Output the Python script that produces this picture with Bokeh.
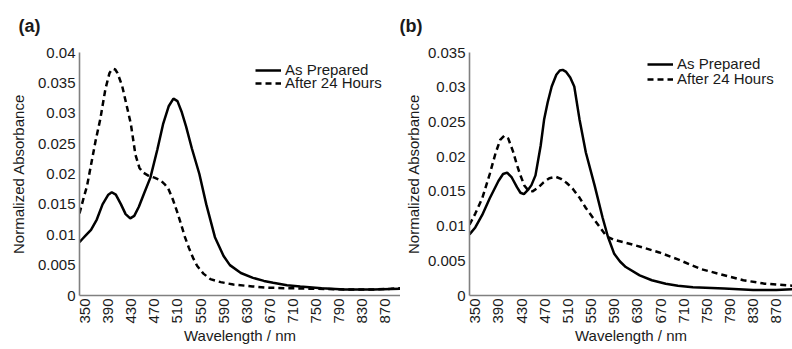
import math
from bokeh.plotting import figure
from bokeh.layouts import row
from bokeh.models import Range1d, FixedTicker, CustomJSTickFormatter, Legend, LegendItem
from bokeh.embed import file_html
from bokeh.resources import INLINE

# ---------------- data ----------------
x_ticks = [350, 390, 430, 470, 510, 550, 590, 630, 670, 710, 750, 790, 830, 870]
y_ticks_a = [0, 0.005, 0.01, 0.015, 0.02, 0.025, 0.03, 0.035, 0.04]
y_ticks_b = [0, 0.005, 0.01, 0.015, 0.02, 0.025, 0.03, 0.035]
series_names = ["As Prepared", "After 24 Hours"]
panel_labels = ["(a)", "(b)"]

# panel (a) - As Prepared
wl_a_prep = [340, 345, 350, 355, 360, 370, 380, 390, 396, 403, 412, 420, 428, 435, 443, 452, 463,
             475, 485, 495, 503, 510, 517, 525, 535, 548, 560, 575, 590, 601, 620, 641, 660,
             676, 700, 723, 760, 800, 850, 897]
abs_a_prep = [0.0088, 0.0093, 0.0098, 0.0103, 0.0108, 0.0125, 0.0150, 0.0166, 0.0170, 0.0166,
              0.0150, 0.0134, 0.0127, 0.0131, 0.0146, 0.0168, 0.0194, 0.0240, 0.0282, 0.0312,
              0.0324, 0.0320, 0.0303, 0.0278, 0.0242, 0.0200, 0.0150, 0.0096, 0.0065, 0.0050,
              0.0037, 0.0029, 0.0024, 0.0021, 0.0017, 0.0015, 0.0012, 0.0010, 0.0010, 0.0011]

# panel (a) - After 24 Hours
wl_a_24h = [340, 347, 353, 360, 368, 376, 385, 392, 396, 399, 402, 406, 414, 422, 429, 437, 444,
            451, 460, 470, 480, 488, 494, 502, 509, 516, 523, 530, 537, 544, 555, 567, 585,
            607, 640, 665, 700, 750, 800, 850, 880, 897]
abs_a_24h = [0.0135, 0.0160, 0.0180, 0.0215, 0.0255, 0.0290, 0.0340, 0.0366, 0.0372, 0.0373,
             0.0372, 0.0366, 0.0345, 0.0312, 0.0283, 0.0232, 0.0210, 0.0202, 0.0197, 0.0194,
             0.0190, 0.0183, 0.0176, 0.0158, 0.0139, 0.0118, 0.0096, 0.0078, 0.0062, 0.0049,
             0.0036, 0.0027, 0.0022, 0.0018, 0.0015, 0.0013, 0.0012, 0.0011, 0.0010, 0.0010,
             0.0011, 0.0012]

# panel (b) - As Prepared
wl_b_prep = [340, 350, 362, 375, 390, 398, 405, 413, 422, 428, 434, 441, 447, 454, 463, 469,
             475, 482, 490, 496, 501, 507, 514, 521, 530, 541, 556, 570, 579, 590, 600, 610,
             634, 655, 679, 700, 726, 780, 830, 870, 898]
abs_b_prep = [0.0088, 0.0098, 0.0116, 0.0140, 0.0165, 0.0175, 0.0177, 0.0170, 0.0156, 0.0148,
              0.0146, 0.0152, 0.0159, 0.0173, 0.0216, 0.0254, 0.0278, 0.0301, 0.0318, 0.0324,
              0.0325, 0.0322, 0.0314, 0.0301, 0.0254, 0.0206, 0.0159, 0.0112, 0.0085, 0.0060,
              0.0049, 0.0041, 0.0029, 0.0022, 0.0017, 0.0014, 0.0012, 0.0010, 0.0008, 0.0008,
              0.0009]

# panel (b) - After 24 Hours
wl_b_24h = [340, 350, 362, 375, 385, 393, 400, 407, 415, 422, 428, 435, 442, 449, 458, 468, 478,
            489, 498, 508, 518, 530, 541, 555, 570, 577, 590, 610, 640, 668, 700, 740, 772,
            813, 850, 898]
abs_b_24h = [0.0102, 0.0118, 0.0140, 0.0175, 0.0205, 0.0224, 0.0230, 0.0226, 0.0208, 0.0188,
             0.0173, 0.0158, 0.0151, 0.0150, 0.0155, 0.0163, 0.0169, 0.0171, 0.0168, 0.0162,
             0.0154, 0.0141, 0.0126, 0.0110, 0.0093, 0.0085, 0.0080, 0.0076, 0.0069, 0.0062,
             0.0052, 0.0038, 0.0031, 0.0022, 0.0017, 0.0014]

FONT = "Liberation Sans"
TXT = "#1a1a1a"
AXIS = "#808080"


def add_legend_item(p, name, renderer, loc):
    lg = Legend(items=[LegendItem(label=name, renderers=[renderer])],
                location=loc, orientation="vertical",
                border_line_color=None, background_fill_alpha=0,
                padding=0, margin=0, spacing=0,
                glyph_width=26, glyph_height=14, label_height=14,
                label_standoff=4,
                label_text_font=FONT, label_text_font_size="15px",
                label_text_color=TXT)
    p.add_layout(lg, "center")


def make_panel(width, border_left, border_top, border_bottom, xr, yr, yticks,
               wl1, a1, wl2, a2, ylab_standoff, xtick_standoff, xlab_standoff,
               legend_x, legend_y1, legend_y2, title_text, title_offset, title_standoff):
    p = figure(width=width, height=349, output_backend="svg", toolbar_location=None,
               x_range=Range1d(*xr), y_range=Range1d(*yr),
               min_border_left=border_left, min_border_right=0,
               min_border_top=border_top, min_border_bottom=border_bottom)
    p.outline_line_color = None
    p.xgrid.visible = False
    p.ygrid.visible = False
    p.background_fill_color = "white"
    p.border_fill_color = "white"

    p.title.text = title_text
    p.title.align = "left"
    p.title.vertical_align = "top"
    p.title.offset = title_offset
    p.title.standoff = title_standoff
    p.title.text_font = FONT
    p.title.text_font_size = "18px"
    p.title.text_font_style = "bold"
    p.title.text_color = TXT

    r1 = p.line(wl1, a1, line_color="black", line_width=2.5)
    r2 = p.line(wl2, a2, line_color="black", line_width=2.5, line_dash="6 4")

    for ax in (p.xaxis[0], p.yaxis[0]):
        ax.axis_line_color = AXIS
        ax.axis_line_width = 1.6
        ax.major_tick_line_color = None
        ax.minor_tick_line_color = None
        ax.major_tick_out = 0
        ax.major_tick_in = 0
        ax.minor_tick_out = 0
        ax.minor_tick_in = 0
        ax.major_label_text_font = FONT
        ax.major_label_text_font_size = "15px"
        ax.major_label_text_color = TXT
        ax.axis_label_text_font = FONT
        ax.axis_label_text_font_size = "15px"
        ax.axis_label_text_font_style = "normal"
        ax.axis_label_text_color = TXT

    p.xaxis.ticker = FixedTicker(ticks=x_ticks)
    p.xaxis.major_label_orientation = math.pi / 2
    p.xaxis.major_label_standoff = xtick_standoff
    p.xaxis.axis_label = "Wavelength / nm"
    p.xaxis.axis_label_standoff = xlab_standoff

    p.yaxis.ticker = FixedTicker(ticks=yticks)
    p.yaxis.formatter = CustomJSTickFormatter(code="return String(Number(tick.toFixed(4)));")
    p.yaxis.major_label_standoff = 4
    p.yaxis.axis_label = "Normalized Absorbance"
    p.yaxis.axis_label_standoff = ylab_standoff

    add_legend_item(p, series_names[0], r1, (legend_x, legend_y1))
    add_legend_item(p, series_names[1], r2, (legend_x, legend_y2))
    return p


pa = make_panel(400, 79, 51, 54, (340, 897), (0, 0.04), y_ticks_a,
                wl_a_prep, abs_a_prep, wl_a_24h, abs_a_24h,
                ylab_standoff=8, xtick_standoff=3, xlab_standoff=0,
                legend_x=176, legend_y1=217, legend_y2=204,
                title_text=panel_labels[0], title_offset=18 - 79, title_standoff=29)
pb = make_panel(392, 69, 52, 50, (340, 898), (0, 0.035), y_ticks_b,
                wl_b_prep, abs_b_prep, wl_b_24h, abs_b_24h,
                ylab_standoff=3, xtick_standoff=3, xlab_standoff=0,
                legend_x=178, legend_y1=223, legend_y2=208,
                title_text=panel_labels[1], title_offset=399 - 469, title_standoff=29)

layout = row(pa, pb)
open("out.html", "w").write(file_html(layout, INLINE))
